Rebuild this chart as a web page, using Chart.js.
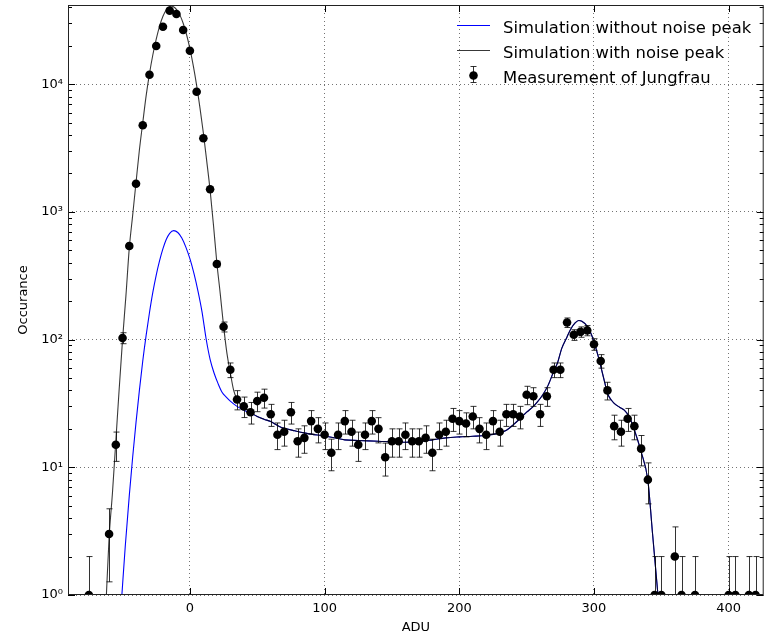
<!DOCTYPE html>
<html>
<head>
<meta charset="utf-8">
<title>ADU spectrum</title>
<script src="https://cdn.jsdelivr.net/npm/chart.js@4.4.1/dist/chart.umd.min.js"></script>
<style>
  html, body { margin: 0; padding: 0; background: #fff; }
</style>
</head>
<body>
<canvas id="spectrum" width="768" height="635"></canvas>
<script>
/* measured histogram, 5 ADU bins (empty bins left out) */
const measX = [-75, -60, -55, -50, -45, -40, -35, -30, -25, -20,
  -15, -10, -5, 0, 5, 10, 15, 20, 25, 30,
  35, 40, 45, 50, 55, 60, 65, 70, 75, 80,
  85, 90, 95, 100, 105, 110, 115, 120, 125, 130,
  135, 140, 145, 150, 155, 160, 165, 170, 175, 180,
  185, 190, 195, 200, 205, 210, 215, 220, 225, 230,
  235, 240, 245, 250, 255, 260, 265, 270, 275, 280,
  285, 290, 295, 300, 305, 310, 315, 320, 325, 330,
  335, 340, 345, 350, 360, 365, 375, 400, 405, 415, 420];
const measCounts = [1, 3, 15, 103, 541, 1663, 4766, 11870, 19900, 28200,
  37660, 35460, 26570, 18290, 8730, 3770, 1503, 391, 126, 58,
  34, 30, 27, 33, 35, 26, 18, 19, 27, 16,
  17, 23, 20, 18, 13, 18, 23, 19, 15, 18,
  23, 20, 12, 16, 16, 18, 16, 16, 17, 13,
  18, 19, 24, 23, 22, 25, 20, 18, 23, 19,
  26, 26, 25, 37, 36, 26, 36, 58, 58, 136,
  109, 115, 118, 92, 68, 40, 21, 19, 24, 21,
  14, 8, 1, 1, 2, 1, 1, 1, 1, 1, 1];

/* simulation including the noise peak, up to where it joins the other one */
const withNoiseX = [-62, -60, -57.5, -55, -52.5, -50, -47.5, -45, -42.5, -40,
  -37.5, -35, -32.5, -30, -27.5, -25, -22.5, -20, -17.5, -15,
  -13.8, -12.5, -10, -7.5, -5, -2.5, 0, 2.5, 5, 7.5,
  10, 12.5, 15, 17.5, 20, 22.5, 25, 27.5, 30, 32.5,
  35, 37.5, 40, 45];
const withNoiseY = [1, 2.8, 6.3, 16, 41, 100, 220, 520, 940, 1700,
  3050, 5000, 8100, 12100, 17000, 22500, 28500, 34000, 38300, 40500,
  40900, 40600, 38600, 34900, 30000, 24500, 19000, 14000, 9800, 6500,
  4150, 2500, 1480, 790, 400, 230, 128, 78, 55, 40,
  34, 31, 29.5, 27];

/* simulation without noise peak */
const noNoiseX = [-50.5, -48, -45, -42.5, -40, -37.5, -35, -32.5, -30, -27.5,
  -25, -22.5, -20, -17.5, -15, -12, -9, -6, -3, 0,
  3, 6, 9, 12, 15, 18, 21, 24, 27, 30,
  35, 40, 45];
const noNoiseY = [1, 2.4, 6, 12, 22.5, 40, 68, 108, 163, 235,
  320, 415, 515, 610, 680, 713, 690, 625, 530, 430,
  330, 240, 165, 102, 70, 54.5, 45, 38.5, 35.5, 33,
  30, 28, 26.5];

/* part shared by both simulations */
const tailX = [50, 55, 60, 66, 70, 78, 85, 90, 100, 110,
  115, 125, 140, 150, 160, 170, 180, 190, 200, 210,
  220, 229, 235, 240, 245, 250, 255, 258, 262, 266,
  270, 273, 276, 280, 283, 286, 288.7, 291, 295, 298,
  300, 303, 305, 308, 310, 313, 315, 319, 322.5, 326,
  330, 335, 340, 343.5, 347.5];
const tailY = [25, 23.8, 22.8, 21, 20.2, 19.3, 18.6, 18.2, 17.6, 16.8,
  16.4, 16.2, 16.0, 15.8, 15.7, 15.9, 16.4, 17.0, 17.3, 17.5,
  17.8, 18.5, 19.5, 21.5, 24, 27, 30, 32.5, 37, 44,
  56, 66, 85, 105, 122, 135, 141, 139, 127, 110,
  96, 75, 62, 46, 38, 33.5, 31.7, 29.5, 28, 25,
  19.6, 13.2, 7.9, 3, 1];

const xTicks = [0, 100, 200, 300, 400];
const yTicks = [1, 10, 100, 1000, 10000];
const yTickLabels = ["10⁰", "10¹", "10²", "10³", "10⁴"];

const X_MIN = -90.5, X_MAX = 426;
const Y_MIN = 1, Y_MAX = 41700;

const FONT = "'DejaVu Sans', sans-serif";
Chart.defaults.font.family = FONT;
Chart.defaults.color = "#000";

function points(xs, ys){
  return xs.map((x, i) => ({ x: x, y: ys[i] }));
}

/* sqrt(N) error bars under the measured points */
const errorBars = {
  id: "errorBars",
  beforeDatasetDraw(chart, args){
    const ds = chart.data.datasets[args.index];
    if(!ds.errorBars) return;
    const ctx = chart.ctx;
    const area = chart.chartArea;
    const xs = chart.scales.x, ys = chart.scales.y;
    ctx.save();
    ctx.beginPath();
    ctx.rect(area.left, area.top, area.right - area.left, area.bottom - area.top);
    ctx.clip();
    ctx.strokeStyle = "rgba(0,0,0,0.8)";
    ctx.lineWidth = 1;
    ds.data.forEach(p => {
      const err = Math.sqrt(p.y);
      const px = Math.round(xs.getPixelForValue(p.x)) + 0.5;
      const top = ys.getPixelForValue(p.y + err);
      const low = p.y - err;
      const bottom = low > 0 ? ys.getPixelForValue(low) : area.bottom + 2;
      ctx.beginPath();
      ctx.moveTo(px, top);
      ctx.lineTo(px, bottom);
      ctx.moveTo(px - 3, top);
      ctx.lineTo(px + 3, top);
      if(low > 0){
        ctx.moveTo(px - 3, bottom);
        ctx.lineTo(px + 3, bottom);
      }
      ctx.stroke();
    });
    ctx.restore();
  }
};

/* box round the plot with inward ticks on all four sides */
const frameTicks = {
  id: "frameTicks",
  afterDatasetsDraw(chart){
    const ctx = chart.ctx;
    const a = chart.chartArea;
    const xs = chart.scales.x, ys = chart.scales.y;
    ctx.save();
    ctx.strokeStyle = "#000";
    ctx.lineWidth = 1;
    ctx.beginPath();

    xTicks.forEach(v => {
      const px = Math.round(xs.getPixelForValue(v)) + 0.5;
      ctx.moveTo(px, a.bottom); ctx.lineTo(px, a.bottom - 7);
      ctx.moveTo(px, a.top); ctx.lineTo(px, a.top + 7);
    });

    yTicks.forEach(dec => {
      for(let m = 1; m <= 9; m++){
        const v = dec * m;
        if(v > Y_MAX) break;
        const len = m === 1 ? 7 : 4;
        const py = Math.round(ys.getPixelForValue(v)) + 0.5;
        ctx.moveTo(a.left, py); ctx.lineTo(a.left + len, py);
        ctx.moveTo(a.right, py); ctx.lineTo(a.right - len, py);
      }
    });
    ctx.stroke();

    ctx.strokeStyle = "#222";
    ctx.strokeRect(a.left + 0.5, a.top + 0.5, a.right - a.left - 1, a.bottom - a.top - 1);
    ctx.restore();
  }
};

/* legend in the upper right, no frame */
const cornerLegend = {
  id: "cornerLegend",
  afterDraw(chart){
    const ctx = chart.ctx;
    const order = [2, 1, 0];
    const x0 = 457, x1 = 490, tx = 503;
    ctx.save();
    ctx.font = "16.4px " + FONT;
    ctx.fillStyle = "#000";
    ctx.textBaseline = "alphabetic";
    order.forEach((di, row) => {
      const ds = chart.data.datasets[di];
      const cy = 25.5 + row * 25;
      if(ds.errorBars){
        const cx = 473.5;
        ctx.strokeStyle = "rgba(0,0,0,0.8)";
        ctx.lineWidth = 1;
        ctx.beginPath();
        ctx.moveTo(cx, cy - 9); ctx.lineTo(cx, cy + 7);
        ctx.moveTo(cx - 3, cy - 9); ctx.lineTo(cx + 3, cy - 9);
        ctx.moveTo(cx - 3, cy + 7); ctx.lineTo(cx + 3, cy + 7);
        ctx.stroke();
        ctx.beginPath();
        ctx.arc(cx, cy, 4.3, 0, Math.PI * 2);
        ctx.fill();
      } else {
        ctx.strokeStyle = ds.borderColor;
        ctx.lineWidth = ds.borderWidth;
        ctx.beginPath();
        ctx.moveTo(x0, cy);
        ctx.lineTo(x1, cy);
        ctx.stroke();
      }
      ctx.fillText(ds.label, tx, cy + 7);
    });
    ctx.restore();
  }
};

new Chart(document.getElementById("spectrum"), {
  type: "scatter",
  data: {
    datasets: [
      {
        label: "Measurement of Jungfrau",
        data: points(measX, measCounts),
        showLine: false,
        pointRadius: 4.3,
        pointBackgroundColor: "#000",
        pointBorderWidth: 0,
        errorBars: true,
        clip: 0,
        order: 0
      },
      {
        label: "Simulation with noise peak",
        data: points(withNoiseX.concat(tailX), withNoiseY.concat(tailY)),
        showLine: true,
        borderColor: "rgba(0,0,0,0.78)",
        borderWidth: 1.1,
        pointRadius: 0,
        cubicInterpolationMode: "monotone",
        order: 1
      },
      {
        label: "Simulation without noise peak",
        data: points(noNoiseX.concat(tailX), noNoiseY.concat(tailY)),
        showLine: true,
        borderColor: "#0000ff",
        borderWidth: 1.1,
        pointRadius: 0,
        cubicInterpolationMode: "monotone",
        order: 2
      }
    ]
  },
  options: {
    responsive: false,
    animation: false,
    devicePixelRatio: 1,
    layout: { padding: { left: 0, right: 1, top: 5, bottom: 0 } },
    plugins: {
      legend: { display: false },
      tooltip: { enabled: false }
    },
    scales: {
      x: {
        type: "linear",
        min: X_MIN,
        max: X_MAX,
        afterBuildTicks: s => { s.ticks = xTicks.map(v => ({ value: v })); },
        afterFit: s => { s.height = 40; s.paddingLeft = 0; s.paddingRight = 0; },
        grid: { color: "rgba(0,0,0,0.55)", lineWidth: 1, drawTicks: false },
        border: { display: false, dash: [1, 3] },
        ticks: { padding: 6, font: { size: 13 }, maxRotation: 0, autoSkip: false },
        title: { display: true, text: "ADU", font: { size: 13, lineHeight: 1 }, padding: { top: 0, bottom: 1 } }
      },
      y: {
        type: "logarithmic",
        min: Y_MIN,
        max: Y_MAX,
        afterBuildTicks: s => { s.ticks = yTicks.map(v => ({ value: v, major: true })); },
        afterFit: s => { s.width = 68; s.paddingTop = 0; s.paddingBottom = 0; },
        grid: { color: "rgba(0,0,0,0.55)", lineWidth: 1, drawTicks: false },
        border: { display: false, dash: [1, 3] },
        ticks: {
          padding: 5,
          font: { size: 13 },
          autoSkip: false,
          callback: v => {
            const i = yTicks.indexOf(v);
            return i >= 0 ? yTickLabels[i] : "";
          }
        },
        title: { display: true, text: "Occurance", font: { size: 13, lineHeight: 1 }, padding: { top: 17.5, bottom: 0 } }
      }
    }
  },
  plugins: [errorBars, frameTicks, cornerLegend]
});
</script>
</body>
</html>
